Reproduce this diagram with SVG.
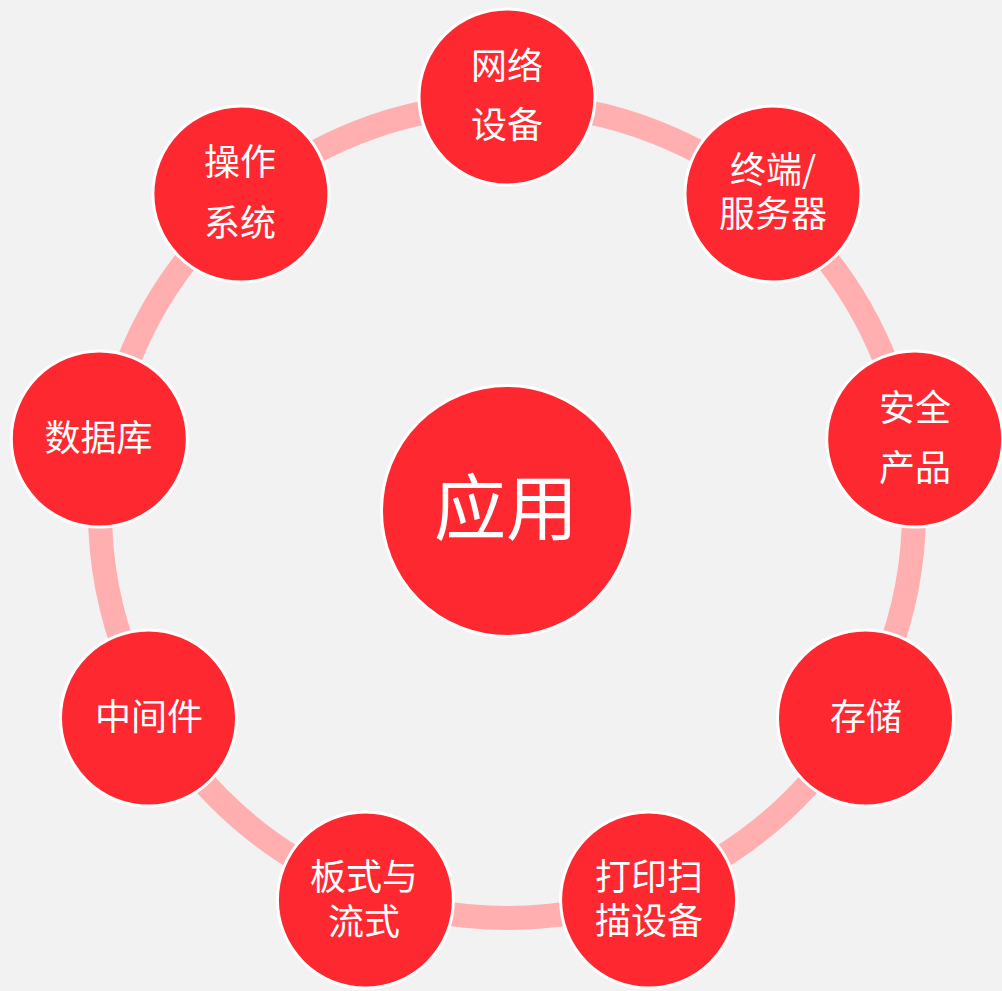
<svg xmlns="http://www.w3.org/2000/svg" width="1002" height="991" viewBox="0 0 1002 991">
<style>
.node{fill:#FE2830;stroke:#FFFFFF;stroke-width:3}
.lbl{fill:#FFFFFF;font-family:"Noto Sans CJK SC","Noto Sans",sans-serif;font-size:36px;text-anchor:middle}
.big{font-size:72px}
.ring{fill:none;stroke:#FFAFAF;stroke-width:24}
</style>
<rect x="0" y="0" width="1002" height="991" fill="#F2F2F2"/>
<g id="connectors">
<circle class="ring" cx="507" cy="511" r="407"/>
</g>
<g id="node-center">
<circle class="node" cx="507" cy="511" r="125.5"/>
<text class="lbl big" x="506" y="534">应用</text>
</g>
<g id="node-network">
<circle class="node" cx="507" cy="97" r="88"/>
<text class="lbl"><tspan x="507" y="78.7">网络</tspan><tspan x="507" y="138">设备</tspan></text>
</g>
<g id="node-terminal">
<circle class="node" cx="773" cy="194" r="88"/>
<text class="lbl"><tspan x="773" y="182.7">终端/</tspan><tspan x="773" y="226.7">服务器</tspan></text>
</g>
<g id="node-security">
<circle class="node" cx="914.7" cy="439" r="88"/>
<text class="lbl"><tspan x="915" y="421">安全</tspan><tspan x="915" y="481">产品</tspan></text>
</g>
<g id="node-storage">
<circle class="node" cx="865.5" cy="718" r="88"/>
<text class="lbl" x="866" y="730.4">存储</text>
</g>
<g id="node-print">
<circle class="node" cx="648.6" cy="900" r="88"/>
<text class="lbl"><tspan x="649" y="890.4">打印扫</tspan><tspan x="649" y="933.7">描设备</tspan></text>
</g>
<g id="node-format">
<circle class="node" cx="365.4" cy="900" r="88"/>
<text class="lbl"><tspan x="364" y="890.4">板式与</tspan><tspan x="364" y="934.5">流式</tspan></text>
</g>
<g id="node-middleware">
<circle class="node" cx="148.5" cy="718" r="88"/>
<text class="lbl" x="149" y="729.5">中间件</text>
</g>
<g id="node-database">
<circle class="node" cx="99.3" cy="439" r="88"/>
<text class="lbl" x="98.5" y="451">数据库</text>
</g>
<g id="node-os">
<circle class="node" cx="240.9" cy="194" r="88"/>
<text class="lbl"><tspan x="240" y="174.7">操作</tspan><tspan x="240" y="236.2">系统</tspan></text>
</g>
</svg>
